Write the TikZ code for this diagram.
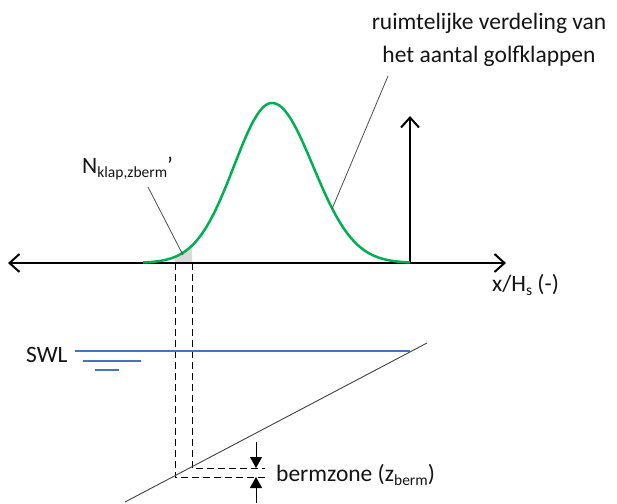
\documentclass[tikz,border=0pt]{standalone}
\usepackage{fontspec}
\setmainfont{Carlito}
\usetikzlibrary{arrows.meta}
\definecolor{curvegreen}{RGB}{0,176,80}
\definecolor{waterblue}{RGB}{68,114,196}
\definecolor{shadegray}{RGB}{217,217,217}
\definecolor{textcol}{RGB}{20,20,20}
\newcommand{\subtxt}[1]{\raisebox{-4.5pt}{\fontsize{15.5}{15.5}\selectfont #1}}
\begin{document}
\begin{tikzpicture}[x=1pt,y=-1pt,
  axis/.style={line width=2pt, black},
  curve/.style={curvegreen, line width=2.5pt},
  guide/.style={black, line width=0.9pt, dash pattern=on 7pt off 4pt},
  slopeline/.style={black!75, line width=0.9pt},
  leader/.style={black!70, line width=0.8pt},
  water/.style={waterblue, line width=1.5pt},
  dimarrow/.style={black, line width=0.9pt, -{Triangle[length=11pt,width=12pt]}},
  txt/.style={font=\fontsize{23.5}{27}\selectfont, text=textcol, inner sep=0pt}]
\useasboundingbox (0,0) rectangle (617,503);
% coordinates
\coordinate (xl) at (8,263);
\coordinate (xr) at (506,263);
\coordinate (o) at (410,263);
\coordinate (yt) at (410,116);
% shaded area
\fill[shadegray] (175,263) -- plot[domain=175:192, samples=20] (\x, {263-160*exp(-0.5*(((\x-272)/38)^2))}) -- (192,263) -- cycle;
% axes
\draw[axis, {Straight Barb[length=10pt,width=18pt]}-{Straight Barb[length=10pt,width=18pt]}] (xl) -- (xr);
\draw[axis, -{Straight Barb[length=10pt,width=18pt]}] (o) -- (yt);
% curve
\draw[curve] plot[domain=143:272, samples=70] (\x, {263-160*exp(-0.5*(((\x-272)/38)^2))})
  -- plot[domain=272:410, samples=70] (\x, {263-160*exp(-0.5*(((\x-272)/41)^2))});
% dashed guides
\coordinate (g1a) at (175,263);
\coordinate (g1b) at (175,477);
\coordinate (g1c) at (265,477);
\coordinate (g2a) at (192,263);
\coordinate (g2b) at (192,468);
\coordinate (g2c) at (265,468);
\draw[guide] (g1a) -- (g1b) -- (g1c);
\draw[guide] (g2a) -- (g2b) -- (g2c);
% slope
\coordinate (s1) at (125,502);
\coordinate (s2) at (427,343);
\draw[slopeline] (s1) -- (s2);
% water
\coordinate (w1a) at (75,351);
\coordinate (w1b) at (410,351);
\coordinate (w2a) at (83,361);
\coordinate (w2b) at (141,361);
\coordinate (w3a) at (95,370);
\coordinate (w3b) at (119,370);
\draw[water] (w1a) -- (w1b);
\draw[water] (w2a) -- (w2b);
\draw[water] (w3a) -- (w3b);
\node[txt, anchor=base west] (swl) at (26,362) {SWL};
% berm zone arrows
\coordinate (b1a) at (256,442);
\coordinate (b1b) at (256,468);
\coordinate (b2a) at (256,503);
\coordinate (b2b) at (256,477);
\draw[dimarrow] (b1a) -- (b1b);
\draw[dimarrow] (b2a) -- (b2b);
\node[txt, anchor=base west] (berm) at (276,481) {bermzone (z\subtxt{berm})};
% labels
\node[txt, anchor=base] (t1) at (489,30) {ruimtelijke verdeling van};
\node[txt, anchor=base] (t2) at (489,63) {het aantal golfklappen};
\node[txt, anchor=base west] (nk) at (82,173) {N\subtxt{klap,zberm}’};
\node[txt, anchor=base west] (xh) at (492,291) {x/H\subtxt{s} (-)};
% leaders
\coordinate (l1a) at (388,76);
\coordinate (l1b) at (332,209);
\coordinate (l2a) at (148,187);
\coordinate (l2b) at (183,255);
\draw[leader] (l1a) -- (l1b);
\draw[leader] (l2a) -- (l2b);
\end{tikzpicture}
\end{document}
